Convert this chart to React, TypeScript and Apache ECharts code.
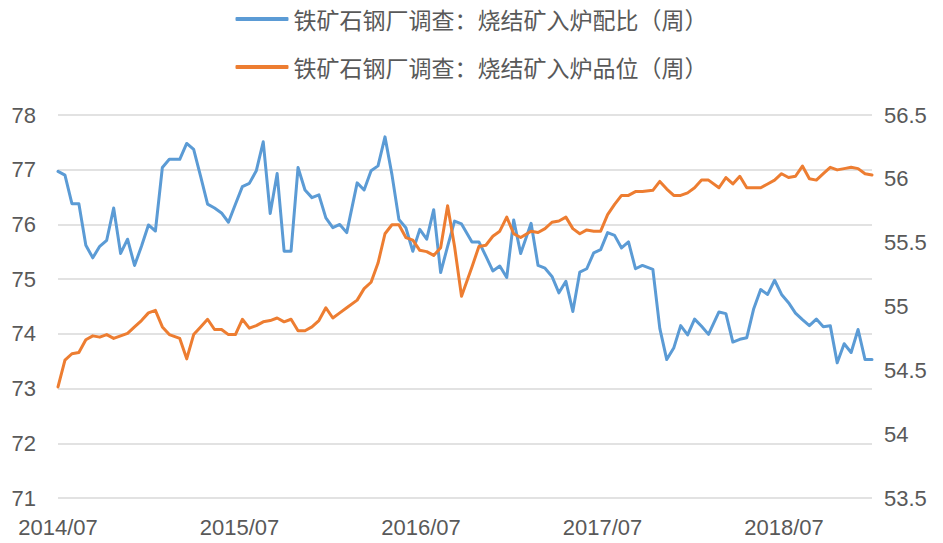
import React, { useEffect, useRef } from "react";
import * as echarts from "echarts";

const seriesNames = [
  "铁矿石钢厂调查：烧结矿入炉配比（周）",
  "铁矿石钢厂调查：烧结矿入炉品位（周）",
];

const dates = [
  "2014-07-04","2014-07-18","2014-08-01","2014-08-15","2014-08-29","2014-09-12","2014-09-26","2014-10-10","2014-10-24","2014-11-07",
  "2014-11-21","2014-12-05","2014-12-19","2015-01-02","2015-01-16","2015-01-30","2015-02-13","2015-03-06","2015-03-20","2015-04-03",
  "2015-04-17","2015-05-01","2015-05-15","2015-05-29","2015-06-12","2015-06-26","2015-07-10","2015-07-24","2015-08-07","2015-08-21",
  "2015-09-04","2015-09-18","2015-10-02","2015-10-16","2015-10-30","2015-11-13","2015-11-27","2015-12-11","2015-12-25","2016-01-08",
  "2016-01-22","2016-02-05","2016-02-26","2016-03-11","2016-03-25","2016-04-08","2016-04-22","2016-05-06","2016-05-20","2016-06-03",
  "2016-06-17","2016-07-01","2016-07-15","2016-07-29","2016-08-12","2016-08-26","2016-09-09","2016-09-23","2016-10-14","2016-10-28",
  "2016-11-11","2016-11-25","2016-12-09","2016-12-23","2017-01-06","2017-01-20","2017-02-10","2017-02-24","2017-03-10","2017-03-24",
  "2017-04-07","2017-04-21","2017-05-05","2017-05-19","2017-06-02","2017-06-16","2017-06-30","2017-07-14","2017-07-28","2017-08-11",
  "2017-08-25","2017-09-08","2017-09-22","2017-10-13","2017-10-27","2017-11-10","2017-11-24","2017-12-08","2017-12-22","2018-01-05",
  "2018-01-19","2018-02-02","2018-02-23","2018-03-09","2018-03-23","2018-04-06","2018-04-20","2018-05-04","2018-05-18","2018-06-01",
  "2018-06-15","2018-06-29","2018-07-13","2018-07-27","2018-08-10","2018-08-24","2018-09-07","2018-09-21","2018-10-05","2018-10-19",
  "2018-11-02","2018-11-16","2018-11-30","2018-12-14","2018-12-28",
];

// 烧结矿入炉配比 (left axis)
const sinterRatio = [
  76.97,76.90,76.38,76.38,75.62,75.39,75.60,75.71,76.30,75.47,
  75.73,75.25,75.60,75.99,75.88,77.04,77.19,77.19,77.48,77.37,
  76.88,76.37,76.30,76.21,76.04,76.37,76.69,76.75,76.98,77.51,
  76.20,76.93,75.51,75.51,77.04,76.63,76.49,76.54,76.12,75.94,
  76.00,75.85,76.76,76.63,76.98,77.07,77.60,76.91,76.09,75.94,
  75.51,75.91,75.73,76.27,75.12,75.60,76.06,76.01,75.68,75.68,
  75.42,75.15,75.24,75.03,76.08,75.47,76.02,75.25,75.20,75.05,
  74.75,74.96,74.41,75.13,75.19,75.48,75.54,75.85,75.80,75.57,
  75.68,75.19,75.25,75.18,74.10,73.53,73.74,74.15,73.98,74.27,
  74.14,73.99,74.40,74.37,73.85,73.90,73.93,74.46,74.81,74.72,
  74.98,74.72,74.57,74.38,74.26,74.15,74.27,74.13,74.15,73.47,
  73.82,73.66,74.08,73.53,73.53,
];

// 烧结矿入炉品位 (right axis)
const sinterGrade = [
  54.37,54.58,54.63,54.64,54.74,54.77,54.76,54.78,54.75,54.77,
  54.79,54.84,54.89,54.95,54.97,54.84,54.78,54.75,54.59,54.78,
  54.84,54.90,54.82,54.82,54.78,54.78,54.90,54.83,54.85,54.88,
  54.89,54.91,54.88,54.90,54.81,54.81,54.84,54.89,54.99,54.91,
  54.95,54.99,55.05,55.14,55.19,55.34,55.57,55.64,55.64,55.54,
  55.52,55.44,55.43,55.40,55.46,55.79,55.47,55.08,55.31,55.47,
  55.48,55.55,55.59,55.70,55.57,55.54,55.59,55.58,55.61,55.66,
  55.67,55.70,55.61,55.57,55.60,55.59,55.59,55.72,55.80,55.87,
  55.87,55.90,55.90,55.91,55.98,55.92,55.87,55.87,55.89,55.93,
  55.99,55.99,55.93,56.01,55.96,56.02,55.93,55.93,55.93,55.96,
  55.99,56.04,56.01,56.02,56.10,56.00,55.99,56.04,56.09,56.07,
  56.08,56.09,56.08,56.04,56.03,
];

const START = Date.UTC(2014, 6, 4);
const DAY = 86400000;
const dayOf = (s: string) => (Date.parse(s + "T00:00:00Z") - START) / DAY;

export default function App() {
  const ref = useRef<HTMLDivElement>(null);
  useEffect(() => {
    if (!ref.current) return;
    const chart = echarts.init(ref.current, undefined, { renderer: "svg" });
    const xs = dates.map(dayOf);
    const axisFont = {
      color: "#595959",
      fontSize: 22,
      fontFamily: "'Liberation Sans', Arial, sans-serif",
    };
    chart.setOption({
      animation: false,
      backgroundColor: "#ffffff",
      legend: {
        orient: "vertical",
        left: "center",
        top: 1,
        itemWidth: 53,
        itemHeight: 4,
        itemGap: 22,
        icon: "roundRect",
        textStyle: {
          color: "#595959",
          fontSize: 23,
          lineHeight: 26,
          fontFamily: "'Noto Sans CJK SC', sans-serif",
        },
        data: seriesNames,
      },
      grid: { left: 58, right: 71, top: 115, bottom: 45, containLabel: false },
      xAxis: {
        type: "value",
        min: 0,
        max: xs[xs.length - 1],
        interval: 365.25,
        axisLine: { show: false },
        axisTick: { show: false },
        splitLine: { show: false },
        axisLabel: {
          ...axisFont,
          margin: 18,
          showMaxLabel: false,
          formatter: (v: number) => {
            const d = new Date(START + v * DAY);
            return d.getUTCFullYear() + "/" + String(d.getUTCMonth() + 1).padStart(2, "0");
          },
        },
      },
      yAxis: [
        {
          type: "value",
          min: 71,
          max: 78,
          interval: 1,
          axisLine: { show: false },
          axisTick: { show: false },
          axisLabel: { ...axisFont, margin: 22 },
          splitLine: { lineStyle: { color: "#d9d9d9", width: 1.5 } },
        },
        {
          type: "value",
          min: 53.5,
          max: 56.5,
          interval: 0.5,
          axisLine: { show: false },
          axisTick: { show: false },
          axisLabel: { ...axisFont, margin: 12 },
          splitLine: { show: false },
        },
      ],
      series: [
        {
          name: seriesNames[0],
          type: "line",
          yAxisIndex: 0,
          showSymbol: false,
          symbol: "none",
          lineStyle: { color: "#5B9BD5", width: 3, join: "round", cap: "round" },
          itemStyle: { color: "#5B9BD5" },
          data: xs.map((x, i) => [x, sinterRatio[i]]),
        },
        {
          name: seriesNames[1],
          type: "line",
          yAxisIndex: 1,
          showSymbol: false,
          symbol: "none",
          lineStyle: { color: "#ED7D31", width: 3, join: "round", cap: "round" },
          itemStyle: { color: "#ED7D31" },
          data: xs.map((x, i) => [x, sinterGrade[i]]),
        },
      ],
    });
    return () => chart.dispose();
  }, []);
  return (
    <div
      ref={ref}
      style={{ position: "fixed", left: 0, top: 0, width: 943, height: 543, background: "#fff" }}
    />
  );
}
